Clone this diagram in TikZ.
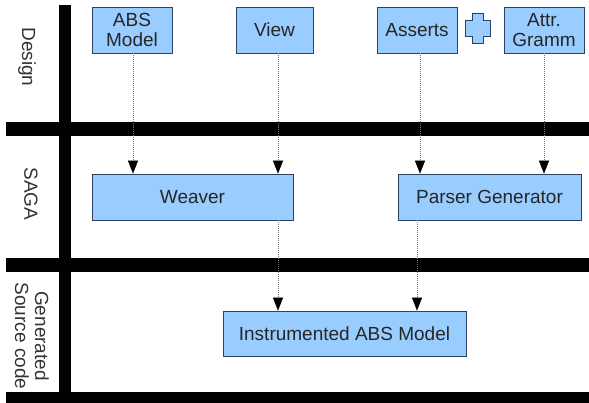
\documentclass[tikz,border=0pt]{standalone}
\usepackage{fontspec}
\setmainfont{Liberation Sans}
\usetikzlibrary{arrows.meta,calc}
\definecolor{boxfill}{RGB}{153,204,255}
\definecolor{boxline}{RGB}{45,65,100}
\definecolor{flowline}{RGB}{120,120,120}
\begin{document}
\begin{tikzpicture}[x=1pt,y=-1pt,
  block/.style={draw=boxline,line width=0.7pt,fill=boxfill,inner sep=0pt,align=center,
    font=\fontsize{19}{20}\selectfont,text=black!85},
  flow/.style={draw=flowline,line width=0.6pt,dash pattern=on 1pt off 1pt,
    -{Triangle[width=10pt,length=13pt,color=black]}},
  lanelabel/.style={rotate=-90,inner sep=0pt,font=\fontsize{19}{20}\selectfont,align=center,text=black!80}]
\useasboundingbox (0,0) rectangle (589,403);

% swimlane separators
\fill[black] (59,5) rectangle (71,403);
\fill[black] (6,122) rectangle (589,136);
\fill[black] (6,258) rectangle (589,272);
\fill[black] (6,392) rectangle (589,403);

% lane titles
\node[lanelabel] (design) at (27,57) {Design};
\node[lanelabel] (saga) at (31,194) {SAGA};
\node[lanelabel] (gen) at (32,336) {Generated\\Source code};

% design artefacts
\node[block,minimum width=80pt,minimum height=46pt] (abs) at (132,30) {ABS\\Model};
\node[block,minimum width=77pt,minimum height=46pt] (view) at (274.5,30) {View};
\node[block,minimum width=80pt,minimum height=46pt] (asserts) at (417,30) {Asserts};
\node[block,minimum width=80pt,minimum height=46pt] (attr) at (544,30) {Attr.\\Gramm};

% plus sign between the two grammar inputs
\filldraw[fill=boxfill,draw=boxline,line width=0.7pt]
  (472,13) -- (483,13) -- (483,20) -- (490,20) -- (490,36) -- (483,36) -- (483,43)
  -- (472,43) -- (472,36) -- (465,36) -- (465,20) -- (472,20) -- cycle;

% SAGA tools
\node[block,minimum width=201pt,minimum height=46pt] (weaver) at (192.5,197) {Weaver};
\node[block,minimum width=183pt,minimum height=46pt] (parser) at (489.5,197) {Parser Generator};

% generated output
\node[block,minimum width=243pt,minimum height=45pt] (instr) at (344.5,333.5) {Instrumented ABS Model};

% data flow
\draw[flow] ([xshift=1pt]abs.south) -- ([xshift=1pt]abs.south |- weaver.north);
\draw[flow] ([xshift=3.5pt]view.south) -- ([xshift=3.5pt]view.south |- weaver.north);
\draw[flow] ([xshift=3pt]asserts.south) -- ([xshift=3pt]asserts.south |- parser.north);
\draw[flow] (attr.south) -- (attr.south |- parser.north);
\draw[flow] ([xshift=85.5pt]weaver.south) -- ([xshift=85.5pt]weaver.south |- instr.north);
\draw[flow] ([xshift=-72.5pt]parser.south) -- ([xshift=-72.5pt]parser.south |- instr.north);
\end{tikzpicture}
\end{document}
